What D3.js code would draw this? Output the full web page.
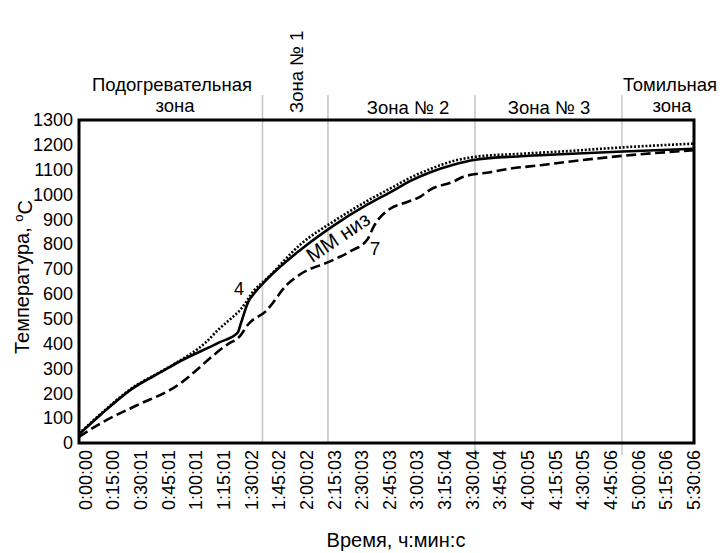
<!DOCTYPE html>
<html>
<head>
<meta charset="utf-8">
<script src="https://cdn.jsdelivr.net/npm/d3@7"></script>
<style>
  body { margin: 0; background: #fff; }
  text { font-family: "Liberation Sans", Arial, sans-serif; fill: #000; }
</style>
</head>
<body>
<svg id="chart" width="720" height="553"></svg>
<script>
// time in seconds from start, temperature in deg C
var timeSolid = [0, 707, 1672, 2733, 3119, 4501, 5112, 5209, 5466, 5627, 6077, 7138, 8199, 9292, 10032, 10675, 11318, 12058, 12765, 14212, 15498, 17523, 19806];
var tempSolid = [35, 115, 215, 292, 320, 404, 444, 480, 572, 600, 662, 778, 875, 960, 1010, 1055, 1090, 1120, 1140, 1154, 1162, 1173, 1184];

var timeDotted = [0, 707, 1672, 2733, 3119, 4083, 4501, 4887, 5209, 5627, 6077, 7138, 8199, 9292, 10032, 10675, 11318, 12058, 12765, 14212, 15498, 17523, 19806];
var tempDotted = [38, 118, 218, 294, 322, 405, 458, 500, 538, 612, 665, 800, 892, 975, 1025, 1068, 1103, 1135, 1152, 1164, 1173, 1190, 1205];

var timeDashed = [0, 707, 1833, 3022, 4823, 5144, 5466, 6013, 6720, 7138, 8103, 8746, 9292, 9485, 10032, 10450, 10996, 11318, 12058, 12379, 13247, 13665, 14855, 15498, 17523, 19806];
var tempDashed = [25, 80, 150, 220, 400, 425, 480, 530, 640, 680, 732, 772, 820, 870, 944, 965, 992, 1020, 1052, 1072, 1090, 1100, 1118, 1128, 1156, 1178];

var tickLabels = ["0:00:00", "0:15:00", "0:30:01", "0:45:01", "1:00:01", "1:15:01", "1:30:02", "1:45:02", "2:00:02", "2:15:03", "2:30:03", "2:45:03", "3:00:03", "3:15:04", "3:30:04", "3:45:04", "4:00:05", "4:15:05", "4:30:05", "4:45:06", "5:00:06", "5:15:06", "5:30:06"];
var yTicks = [0, 100, 200, 300, 400, 500, 600, 700, 800, 900, 1000, 1100, 1200, 1300];

// zone boundaries (s)
var zoneBounds = [5909, 8018, 12752, 17487];

var svg = d3.select("#chart");

var pLeft = 79, pRight = 694, pTop = 120, pBottom = 443;

var x = d3.scaleLinear().domain([0, 19806]).range([pLeft, pRight]);
var xLab = d3.scalePoint().domain(tickLabels).range([85, 693]);
var y = d3.scaleLinear().domain([0, 1300]).range([pBottom, pTop]);

// zone lines
svg.selectAll(".zone")
  .data(zoneBounds)
  .enter().append("line")
  .attr("class", "zone")
  .attr("x1", function(d) { return x(d); })
  .attr("x2", function(d) { return x(d); })
  .attr("y1", 95)
  .attr("y2", function(d, i) { return i < 2 ? pBottom : 455; })
  .attr("stroke", function(d, i) { return i < 3 ? "#c6c6c6" : "#b0b0b0"; })
  .attr("stroke-width", function(d, i) { return i < 3 ? 1.6 : 1; });

// axes
var yAxis = svg.append("g")
  .attr("transform", "translate(" + pLeft + ",0)")
  .call(d3.axisLeft(y).tickValues(yTicks).tickFormat(d3.format("d")).tickSize(0).tickPadding(6));
yAxis.select(".domain").remove();
yAxis.selectAll("text")
  .style("font-size", "18px")
  .style("font-family", "'Liberation Sans', Arial, sans-serif")
  .attr("fill", "#000");

var xAxis = svg.append("g")
  .attr("transform", "translate(0," + pBottom + ")")
  .call(d3.axisBottom(xLab).tickSize(0));
xAxis.select(".domain").remove();
xAxis.selectAll("text")
  .attr("transform", "rotate(-90)")
  .attr("x", -7)
  .attr("y", 0)
  .attr("dy", "0.35em")
  .style("text-anchor", "end")
  .style("font-size", "18px")
  .style("font-family", "'Liberation Sans', Arial, sans-serif")
  .attr("fill", "#000");

// curves
function series(ts, vs) {
  return ts.map(function(t, i) { return [t, vs[i]]; });
}

var line = d3.line()
  .x(function(d) { return x(d[0]); })
  .y(function(d) { return y(d[1]); })
  .curve(d3.curveMonotoneX);

svg.append("path")
  .datum(series(timeDashed, tempDashed))
  .attr("d", line)
  .attr("fill", "none")
  .attr("stroke", "#000")
  .attr("stroke-width", 2.6)
  .attr("stroke-dasharray", "10,4.5");

svg.append("path")
  .datum(series(timeSolid, tempSolid))
  .attr("d", line)
  .attr("fill", "none")
  .attr("stroke", "#000")
  .attr("stroke-width", 2.6);

svg.append("path")
  .datum(series(timeDotted, tempDotted))
  .attr("d", line)
  .attr("fill", "none")
  .attr("stroke", "#000")
  .attr("stroke-width", 2.6)
  .attr("stroke-dasharray", "2,1.8");

// frame
svg.append("rect")
  .attr("x", pLeft)
  .attr("y", pTop)
  .attr("width", pRight - pLeft)
  .attr("height", pBottom - pTop)
  .attr("fill", "none")
  .attr("stroke", "#000")
  .attr("stroke-width", 3);

// zone titles
var zf = "18.5px";
svg.append("text").attr("x", 172).attr("y", 91).attr("text-anchor", "middle").style("font-size", zf).text("Подогревательная");
svg.append("text").attr("x", 175).attr("y", 112).attr("text-anchor", "middle").style("font-size", zf).text("зона");
svg.append("text").attr("transform", "translate(303,113) rotate(-90)").style("font-size", zf).text("Зона № 1");
svg.append("text").attr("x", 408).attr("y", 114).attr("text-anchor", "middle").style("font-size", zf).text("Зона № 2");
svg.append("text").attr("x", 549).attr("y", 114).attr("text-anchor", "middle").style("font-size", zf).text("Зона № 3");
svg.append("text").attr("x", 670).attr("y", 91).attr("text-anchor", "middle").style("font-size", zf).text("Томильная");
svg.append("text").attr("x", 672).attr("y", 112).attr("text-anchor", "middle").style("font-size", zf).text("зона");

// curve labels
svg.append("text").attr("x", 239).attr("y", 295).attr("text-anchor", "middle").style("font-size", "18px").text("4");
svg.append("text").attr("x", 375).attr("y", 255).attr("text-anchor", "middle").style("font-size", "19px").text("7");
svg.append("text").attr("transform", "translate(342,243) rotate(-34)").attr("text-anchor", "middle").style("font-size", "20.5px").text("ММ низ");

// axis titles
var yt = svg.append("text")
  .attr("transform", "translate(29,277) rotate(-90)")
  .attr("text-anchor", "middle")
  .style("font-size", "20px");
yt.append("tspan").text("Температура, ");
yt.append("tspan").attr("dy", "-0.45em").style("font-size", "13px").text("o");
yt.append("tspan").attr("dy", "0.45em").text("C");

svg.append("text")
  .attr("x", 396)
  .attr("y", 547)
  .attr("text-anchor", "middle")
  .style("font-size", "20px")
  .text("Время, ч:мин:с");
</script>
</body>
</html>
